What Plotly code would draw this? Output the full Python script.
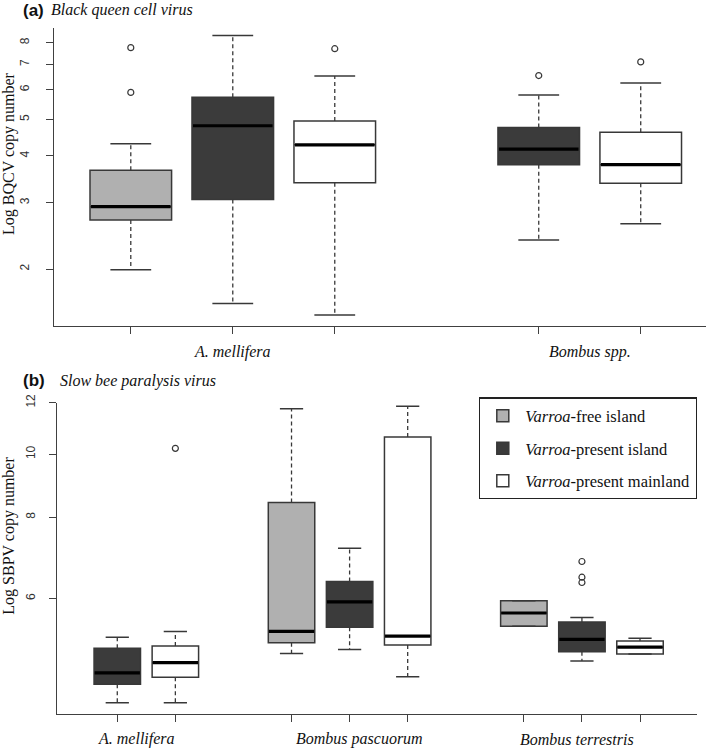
import plotly.graph_objects as go

# ---------------- data ----------------
status_names = ["<i>Varroa</i>-free island", "<i>Varroa</i>-present island", "<i>Varroa</i>-present mainland"]
status_colors = ["#b0b0b0", "#3b3b3b", "#ffffff"]

# Panel (a) Black queen cell virus
a_pos = [1, 2, 3, 5, 6]
a_status = [0, 1, 2, 1, 2]
a_lower = [1.99, 1.62, 1.51, 2.39, 2.64]
a_q1 = [2.70, 3.06, 3.39, 3.79, 3.38]
a_med = [2.93, 4.81, 4.28, 4.17, 3.79]
a_q3 = [3.66, 5.73, 4.95, 4.76, 4.62]
a_upper = [4.31, 8.36, 6.52, 5.81, 6.25]
a_out = [[7.76, 5.90], [], [7.71], [6.54], [7.11]]
a_species = ["A. mellifera", "Bombus spp."]
a_yticks = [2, 3, 4, 5, 6, 7, 8]

# Panel (b) Slow bee paralysis virus
b_pos = [1, 2, 4, 5, 6, 8, 9, 10]
b_status = [1, 2, 0, 1, 2, 0, 1, 2]
b_lower = [4.15, 4.15, 4.94, 5.01, 4.55, 5.44, 4.81, 4.93]
b_q1 = [4.43, 4.54, 5.13, 5.42, 5.09, 5.44, 4.97, 4.93]
b_med = [4.61, 4.78, 5.34, 5.93, 5.25, 5.70, 5.19, 5.05]
b_q3 = [5.03, 5.07, 8.43, 6.37, 10.63, 5.95, 5.52, 5.16]
b_upper = [5.23, 5.34, 11.75, 7.17, 11.85, 5.95, 5.61, 5.21]
b_out = [[], [10.21], [], [], [], [], [6.84, 6.47, 6.35], []]
b_species = ["A. mellifera", "Bombus pascuorum", "Bombus terrestris"]
b_yticks = [6, 8, 10, 12]

# ---------------- layout constants ----------------
W, H = 709, 748
BOXW = 0.8
CAPW = 0.4
EDGE = "#383838"
SERIF = "Liberation Serif"
SANS = "Liberation Sans"

fig = go.Figure()


def add_panel(pos, status, lower, q1, med, q3, upper, outs, xa, ya, legend):
    shown = set()
    for i, p in enumerate(pos):
        s = status[i]
        show = legend and s not in shown
        shown.add(s)
        fig.add_trace(go.Box(
            x=[p], q1=[q1[i]], median=[med[i]], q3=[q3[i]],
            lowerfence=[q1[i]], upperfence=[q3[i]],
            width=BOXW, whiskerwidth=0, boxpoints=False,
            fillcolor=status_colors[s], line=dict(color=EDGE, width=1.5),
            name=status_names[s], legendgroup="g%d" % s, legendrank=s + 1,
            showlegend=show, xaxis=xa, yaxis=ya, hoverinfo="skip"))
    wx, wy, cx, cy, mx, my, ox, oy = [], [], [], [], [], [], [], []
    for i, p in enumerate(pos):
        wx += [p, p, None, p, p, None]
        wy += [q3[i], upper[i], None, q1[i], lower[i], None]
        cx += [p - CAPW / 2, p + CAPW / 2, None, p - CAPW / 2, p + CAPW / 2, None]
        cy += [upper[i], upper[i], None, lower[i], lower[i], None]
        mx += [p - BOXW / 2 + 0.01, p + BOXW / 2 - 0.01, None]
        my += [med[i], med[i], None]
        for o in outs[i]:
            ox.append(p)
            oy.append(o)
    fig.add_trace(go.Scatter(x=wx, y=wy, mode="lines", showlegend=False, hoverinfo="skip",
                             line=dict(color=EDGE, width=1.3, dash="4px,3px"), xaxis=xa, yaxis=ya))
    fig.add_trace(go.Scatter(x=cx, y=cy, mode="lines", showlegend=False, hoverinfo="skip",
                             line=dict(color=EDGE, width=1.5), xaxis=xa, yaxis=ya))
    fig.add_trace(go.Scatter(x=mx, y=my, mode="lines", showlegend=False, hoverinfo="skip",
                             line=dict(color="#000000", width=3.2), xaxis=xa, yaxis=ya))
    fig.add_trace(go.Scatter(x=ox, y=oy, mode="markers", showlegend=False, hoverinfo="skip",
                             marker=dict(symbol="circle-open", size=6, color=EDGE, line=dict(width=1.2)),
                             xaxis=xa, yaxis=ya))


add_panel(a_pos, a_status, a_lower, a_q1, a_med, a_q3, a_upper, a_out, "x", "y", False)
add_panel(b_pos, b_status, b_lower, b_q1, b_med, b_q3, b_upper, b_out, "x2", "y2", True)


def px(x):
    return x / W


def py(y):
    return 1 - y / H


axis_common = dict(showline=True, linecolor="#404040", linewidth=1.3, showgrid=False, zeroline=False,
                   ticks="outside", ticklen=7, tickwidth=1.2, tickcolor="#404040", automargin=False)

fig.update_layout(
    width=W, height=H, margin=dict(l=0, r=0, t=0, b=0),
    paper_bgcolor="white", plot_bgcolor="white",
    xaxis=dict(domain=[px(54.3), px(706)], range=[0.25, 6.64], tickvals=a_pos,
               showticklabels=False, anchor="y", **axis_common),
    yaxis=dict(domain=[py(325.7), py(28)], type="log", range=[0.1502, 0.9421], tickvals=a_yticks,
               ticktext=[str(v) for v in a_yticks], tickangle=-90, ticklabelstandoff=12,
               tickfont=dict(family=SANS, size=12, color="#333"), anchor="x", **axis_common),
    xaxis2=dict(domain=[px(56.7), px(696.7)], range=[-0.043, 10.976], tickvals=b_pos,
                showticklabels=False, anchor="y2", **axis_common),
    yaxis2=dict(domain=[py(714.3), py(402.5)], type="log", range=[0.6001, 1.0795], tickvals=b_yticks,
                ticktext=[str(v) for v in b_yticks], tickangle=-90, ticklabelstandoff=9,
                tickfont=dict(family=SANS, size=12, color="#333"), anchor="x2", **axis_common),
    showlegend=True,
    legend=dict(x=px(479), y=py(397.3), xanchor="left", yanchor="top",
                bordercolor="#222", borderwidth=1.3, bgcolor="white",
                font=dict(family=SERIF, size=16.5, color="#111"),
                itemwidth=35, traceorder="grouped", tracegroupgap=8),
)

ann = []
ann.append(dict(text="<b>(a)</b>", x=px(21), y=py(10), xref="paper", yref="paper", xanchor="left",
                yanchor="middle", showarrow=False, font=dict(family=SANS, size=17, color="#111")))
ann.append(dict(text="<i>Black queen cell virus</i>", x=px(49), y=py(10), xref="paper", yref="paper",
                xanchor="left", yanchor="middle", showarrow=False, font=dict(family=SERIF, size=16, color="#111")))
ann.append(dict(text="<b>(b)</b>", x=px(21), y=py(380.7), xref="paper", yref="paper", xanchor="left",
                yanchor="middle", showarrow=False, font=dict(family=SANS, size=17, color="#111")))
ann.append(dict(text="<i>Slow bee paralysis virus</i>", x=px(58), y=py(380.7), xref="paper", yref="paper",
                xanchor="left", yanchor="middle", showarrow=False, font=dict(family=SERIF, size=16, color="#111")))
ann.append(dict(text="Log BQCV copy number", x=px(9), y=py(154), xref="paper", yref="paper",
                xanchor="center", yanchor="middle",
                textangle=-90, showarrow=False, font=dict(family=SERIF, size=16, color="#111")))
ann.append(dict(text="Log SBPV copy number", x=px(9), y=py(535.7), xref="paper", yref="paper",
                xanchor="center", yanchor="middle",
                textangle=-90, showarrow=False, font=dict(family=SERIF, size=16, color="#111")))
a_label_x = [2, 5.5]
for name, xv in zip(a_species, a_label_x):
    ann.append(dict(text="<i>%s</i>" % name, x=xv, y=py(352), xref="x", yref="paper",
                    xanchor="center", yanchor="middle",
                    showarrow=False, font=dict(family=SERIF, size=16, color="#111")))
b_label_x = [1.33, 5.17, 8.92]
for name, xv in zip(b_species, b_label_x):
    ann.append(dict(text="<i>%s</i>" % name, x=xv, y=py(739), xref="x2", yref="paper",
                    xanchor="center", yanchor="middle",
                    showarrow=False, font=dict(family=SERIF, size=16, color="#111")))
fig.update_layout(annotations=ann)

# remove the browser's default 8px body margin so the figure sits at the page origin
fig.write_html("out.html", config={"displayModeBar": False},
               post_script="document.body.style.margin='0px';")
